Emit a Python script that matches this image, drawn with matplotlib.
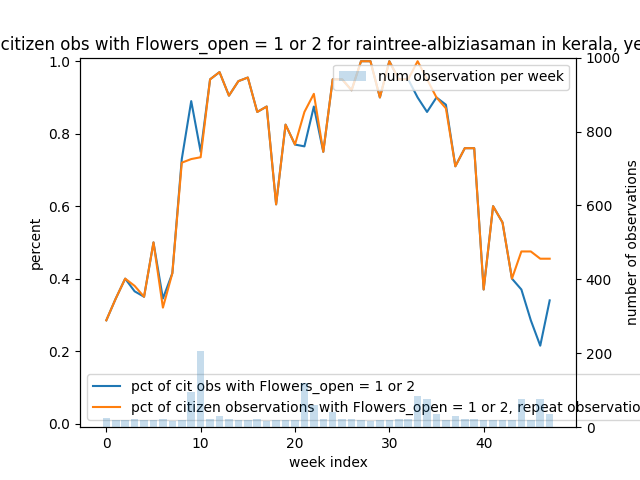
import matplotlib
matplotlib.use("Agg")
import matplotlib.pyplot as plt
import numpy as np

weeks = list(range(48))
pct_blue = [0.285,0.345,0.40,0.365,0.35,0.50,0.345,0.415,0.73,0.89,0.75,0.95,0.97,0.905,0.945,0.955,0.86,0.875,0.605,0.825,
            0.77,0.765,0.875,0.75,0.95,0.95,0.92,1.0,1.0,0.9,1.0,0.95,0.95,0.90,0.86,0.90,0.88,0.71,0.76,0.76,
            0.37,0.60,0.555,0.40,0.37,0.285,0.215,0.34]
pct_orange = [0.285,0.345,0.40,0.38,0.35,0.50,0.32,0.415,0.72,0.73,0.735,0.95,0.97,0.905,0.945,0.955,0.86,0.875,0.605,0.825,
              0.77,0.86,0.91,0.75,0.95,0.95,0.92,1.0,1.0,0.9,1.0,0.95,0.95,1.0,0.95,0.90,0.87,0.71,0.76,0.76,
              0.37,0.60,0.555,0.40,0.475,0.475,0.455,0.455]
num_obs = [25,20,20,22,20,20,22,18,20,95,205,22,30,22,20,20,22,18,20,20,
           20,120,60,22,40,22,22,20,18,20,20,22,22,85,75,35,20,30,22,22,
           20,20,20,20,75,20,75,35]

fig, ax = plt.subplots(figsize=(6.4, 4.8), dpi=100)
ax2 = ax.twinx()
ax2.bar(weeks, num_obs, alpha=0.25, label="num observation per week")
ax2.set_ylim(0, 1000)
ax2.set_ylabel("number of observations")
ax.plot(weeks, pct_blue, label="pct of cit obs with Flowers_open = 1 or 2")
ax.plot(weeks, pct_orange, label="pct of citizen observations with Flowers_open = 1 or 2, repeat observations removed")
ax.set_ylim(-0.01, 1.01)
ax.set_xlabel("week index")
ax.set_ylabel("percent")
ax.set_title("pct of citizen obs with Flowers_open = 1 or 2 for raintree-albiziasaman in kerala, year 2020")
ax.legend(loc="lower left")
ax2.legend(loc="upper right")
fig.savefig("out.png")
